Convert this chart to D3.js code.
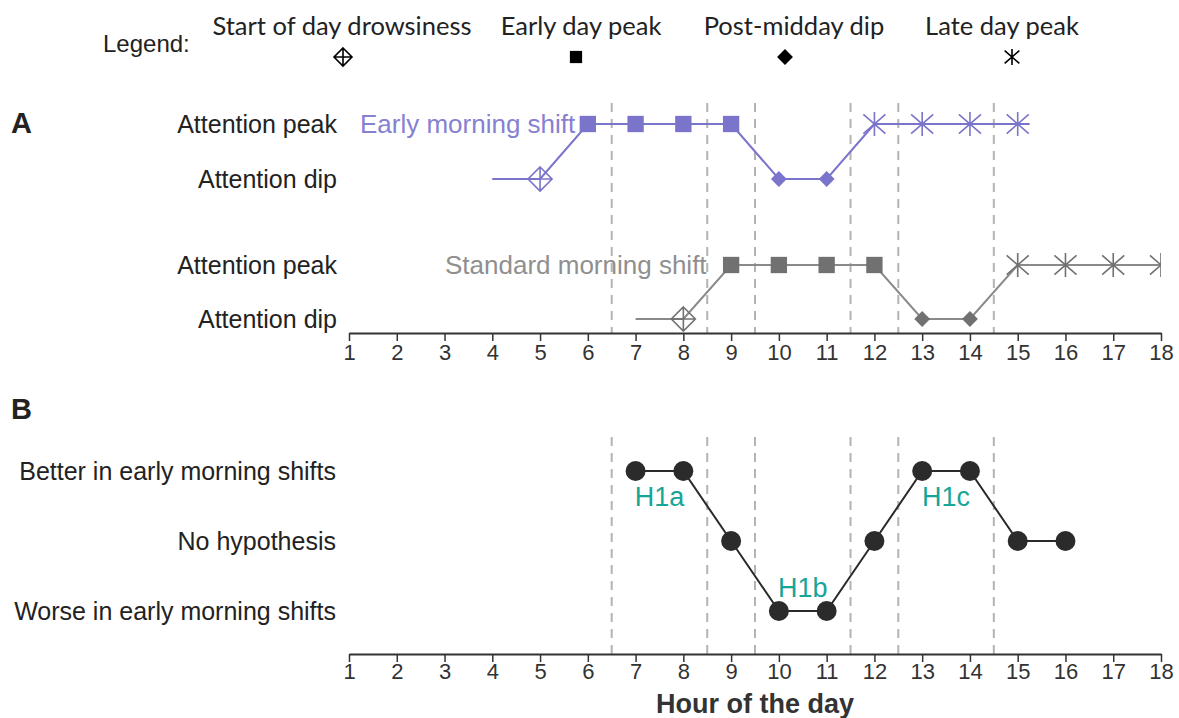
<!DOCTYPE html>
<html>
<head>
<meta charset="utf-8">
<script src="https://cdn.jsdelivr.net/npm/d3@7"></script>
<style>
  body { margin: 0; background: #fff; }
  text { font-family: "Liberation Sans", Arial, sans-serif; }
</style>
</head>
<body>
<div id="container"></div>
<script>
// hours on the x axis
let hours = d3.range(1, 19);
// phase boundaries (dashed lines)
let boundaries = [6.5, 8.5, 9.5, 11.5, 12.5, 14.5];

// legend
let legendNames = ["Start of day drowsiness", "Early day peak", "Post-midday dip", "Late day peak"];
let legendTypes = ["drowsy", "peak", "dip", "late"];

// panel A: early morning shift (1 = attention peak, 0 = attention dip)
let earlyHours = [5, 6, 7, 8, 9, 10, 11, 12, 13, 14, 15];
let earlyLevel = [0, 1, 1, 1, 1, 0, 0, 1, 1, 1, 1];
let earlyType = ["drowsy", "peak", "peak", "peak", "peak", "dip", "dip", "late", "late", "late", "late"];
let earlyLineFrom = 4, earlyLineTo = 15.25;

// panel A: standard morning shift
let standardHours = [8, 9, 10, 11, 12, 13, 14, 15, 16, 17, 18];
let standardLevel = [0, 1, 1, 1, 1, 0, 0, 1, 1, 1, 1];
let standardType = ["drowsy", "peak", "peak", "peak", "peak", "dip", "dip", "late", "late", "late", "late"];
let standardLineFrom = 7, standardLineTo = 18;

// panel B: hypotheses (1 = better, 0 = none, -1 = worse in early shifts)
let hypHours = [7, 8, 9, 10, 11, 12, 13, 14, 15, 16];
let hypValue = [1, 1, 0, -1, -1, 0, 1, 1, 0, 0];
let hypNames = ["H1a", "H1b", "H1c"];
let hypX = [7.5, 10.5, 13.5];
let hypY = [0.63, -0.66, 0.63];
let hypLabels = ["Worse in early morning shifts", "No hypothesis", "Better in early morning shifts"];

let purple = "#7a74ca", grey = "#8a8a8a", greyMark = "#717171";

let svg = d3.select("#container").append("svg").attr("width", 1179).attr("height", 718);

let xScale = d3.scaleLinear().domain([1, 18]).range([349, 1161]);
let yEarly = d3.scaleLinear().domain([0, 1]).range([179, 124]);
let yStd = d3.scaleLinear().domain([0, 1]).range([319, 265]);
let yB = d3.scaleLinear().domain([-1, 1]).range([611, 471]);

svg.append("defs").append("clipPath").attr("id", "clipA")
  .append("rect").attr("x", 0).attr("y", 90).attr("width", xScale(18)).attr("height", 260);

function drawMarker(g, type, x, y, color, s) {
  if (type === "drowsy") {
    g.append("path")
      .attr("d", `M${x},${y - s}L${x + s},${y}L${x},${y + s}L${x - s},${y}Z M${x},${y - s}V${y + s} M${x - s},${y}H${x + s}`)
      .attr("fill", "none").attr("stroke", color).attr("stroke-width", 1.6);
  } else if (type === "peak") {
    g.append("rect").attr("x", x - s * 0.68).attr("y", y - s * 0.68)
      .attr("width", s * 1.36).attr("height", s * 1.36).attr("fill", color);
  } else if (type === "dip") {
    let d = s * 0.66;
    g.append("path").attr("d", `M${x},${y - d}L${x + d},${y}L${x},${y + d}L${x - d},${y}Z`).attr("fill", color);
  } else {
    let dx = s * 0.92, dy = s * 0.8;
    g.append("path")
      .attr("d", `M${x},${y - s}V${y + s} M${x - dx},${y - dy}L${x + dx},${y + dy} M${x - dx},${y + dy}L${x + dx},${y - dy}`)
      .attr("fill", "none").attr("stroke", color).attr("stroke-width", 1.6);
  }
}

// legend
svg.append("text").attr("x", 103).attr("y", 52).attr("font-size", 24).attr("fill", "#222").text("Legend:");
let legendX = [342, 581, 794, 1002];
let legendMarkX = [343, 576, 785, 1012];
let legendSize = [9, 9, 12, 8];
legendNames.forEach(function (name, i) {
  svg.append("text").attr("x", legendX[i]).attr("y", 35).attr("text-anchor", "middle")
    .style("font-family", "Lato, 'Open Sans', sans-serif").attr("font-size", 25.5).attr("fill", "#222").text(name);
  drawMarker(svg, legendTypes[i], legendMarkX[i], 57, "#000", legendSize[i]);
});

// panel letters
svg.append("text").attr("x", 11).attr("y", 133).attr("font-size", 29).attr("font-weight", "bold").attr("fill", "#222").text("A");
svg.append("text").attr("x", 11).attr("y", 419).attr("font-size", 29).attr("font-weight", "bold").attr("fill", "#222").text("B");

// y labels
let yLabelsA = [["Attention peak", 124], ["Attention dip", 179], ["Attention peak", 265], ["Attention dip", 319]];
yLabelsA.forEach(function (d) {
  svg.append("text").attr("x", 337).attr("y", d[1]).attr("dy", "0.35em").attr("text-anchor", "end")
    .attr("font-size", 25).attr("fill", "#222").text(d[0]);
});
hypLabels.forEach(function (label, i) {
  svg.append("text").attr("x", 336).attr("y", yB(i - 1)).attr("dy", "0.35em").attr("text-anchor", "end")
    .attr("font-size", 25).attr("fill", "#222").text(label);
});

// dashed boundaries
boundaries.forEach(function (b) {
  svg.append("line").attr("x1", xScale(b)).attr("x2", xScale(b)).attr("y1", 103).attr("y2", 333)
    .attr("stroke", "#b3b3b3").attr("stroke-width", 2).attr("stroke-dasharray", "9,7");
  svg.append("line").attr("x1", xScale(b)).attr("x2", xScale(b)).attr("y1", 437).attr("y2", 654)
    .attr("stroke", "#b3b3b3").attr("stroke-width", 2).attr("stroke-dasharray", "9,7");
});

// axes
function drawAxis(y, pad) {
  let g = svg.append("g").attr("transform", "translate(0," + y + ")")
    .call(d3.axisBottom(xScale).tickValues(hours).tickSizeInner(8).tickSizeOuter(0).tickPadding(pad));
  g.select(".domain").attr("stroke", "#333").attr("stroke-width", 2.2);
  g.selectAll(".tick line").attr("stroke", "#333").attr("stroke-width", 1.5);
  g.selectAll(".tick text").attr("font-size", 22).attr("fill", "#333");
}
drawAxis(333, 3);
drawAxis(654, 1);

svg.append("text").attr("x", 755).attr("y", 713).attr("text-anchor", "middle")
  .attr("font-size", 27).attr("font-weight", "bold").attr("fill", "#333")
  .text("Hour of the day");

// shift series in panel A
function drawShift(hrs, lev, types, from, to, yScale, color, markColor) {
  let g = svg.append("g").attr("clip-path", "url(#clipA)");
  let pts = [[from, 0]].concat(hrs.map((h, i) => [h, lev[i]])).concat([[to, lev[lev.length - 1]]]);
  g.append("path").datum(pts)
    .attr("d", d3.line().x(d => xScale(d[0])).y(d => yScale(d[1])))
    .attr("fill", "none").attr("stroke", color).attr("stroke-width", 2);
  hrs.forEach(function (h, i) {
    drawMarker(g, types[i], xScale(h), yScale(lev[i]), markColor, 12);
  });
}
drawShift(earlyHours, earlyLevel, earlyType, earlyLineFrom, earlyLineTo, yEarly, purple, purple);
drawShift(standardHours, standardLevel, standardType, standardLineFrom, standardLineTo, yStd, grey, greyMark);

svg.append("text").attr("x", 360).attr("y", yEarly(1)).attr("dy", "0.35em")
  .attr("font-size", 26).attr("fill", "#8680d2").text("Early morning shift");
svg.append("text").attr("x", 445).attr("y", yStd(1)).attr("dy", "0.35em")
  .attr("font-size", 26).attr("fill", "#8f8f8f").text("Standard morning shift");

// panel B
svg.append("path").datum(hypHours.map((h, i) => [h, hypValue[i]]))
  .attr("d", d3.line().x(d => xScale(d[0])).y(d => yB(d[1])))
  .attr("fill", "none").attr("stroke", "#2a2a2a").attr("stroke-width", 2);
svg.selectAll(".hyp").data(hypHours).enter().append("circle")
  .attr("cx", d => xScale(d)).attr("cy", (d, i) => yB(hypValue[i])).attr("r", 10).attr("fill", "#2b2b2b");
hypNames.forEach(function (n, i) {
  svg.append("text").attr("x", xScale(hypX[i])).attr("y", yB(hypY[i])).attr("dy", "0.35em")
    .attr("text-anchor", "middle").attr("font-size", 27).attr("fill", "#17a597").text(n);
});
</script>
</body>
</html>
